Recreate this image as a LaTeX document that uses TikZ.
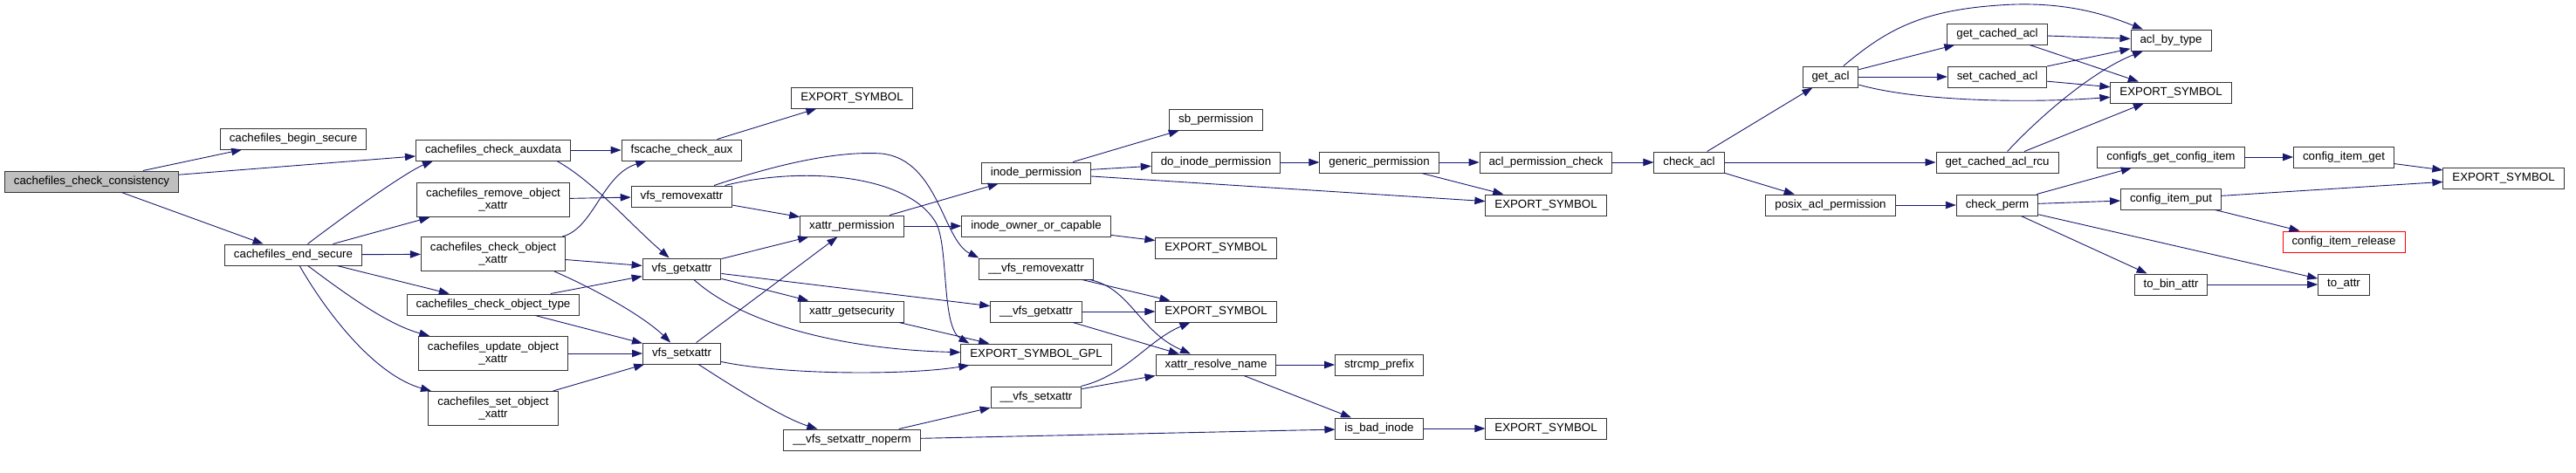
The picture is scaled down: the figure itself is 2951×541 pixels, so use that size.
\documentclass[tikz,border=0pt]{standalone}
\usepackage{fontspec}
\setmainfont{Liberation Sans}
\usetikzlibrary{arrows.meta}
\definecolor{edgeblue}{HTML}{191970}
\definecolor{rootgray}{HTML}{BFBFBF}
\tikzset{
  fn/.style={draw=black!80, fill=white, line width=1pt, inner xsep=10.5pt, inner ysep=0pt,
    minimum height=24pt, font=\fontsize{13.3}{14.5}\selectfont},
  fnii/.style={fn, align=center, minimum height=39pt},
  call/.style={draw=edgeblue, line width=0.9pt, -{Triangle[length=12pt,width=8.5pt]}},
}
\begin{document}
\begin{tikzpicture}[x=1pt, y=-1pt]
    \useasboundingbox (0,0) rectangle (2951,541);

    % Callers on the left
    \node[fn, fill=rootgray] (consist) at (105,208) {cachefiles\_check\_consistency};
    \node[fn] (beginsec) at (336,159) {cachefiles\_begin\_secure};
    \node[fn] (endsec) at (336,292) {cachefiles\_end\_secure};
    \node[fn] (auxdata) at (565,172) {cachefiles\_check\_auxdata};
    \node[fnii] (removex) at (565,229) {cachefiles\_remove\_object\\\_xattr};
    \node[fnii] (chkobjx) at (565,291) {cachefiles\_check\_object\\\_xattr};
    \node[fn] (chktype) at (565,349) {cachefiles\_check\_object\_type};
    \node[fnii] (updobjx) at (565,405) {cachefiles\_update\_object\\\_xattr};
    \node[fnii] (setobjx) at (565,468) {cachefiles\_set\_object\\\_xattr};

    % vfs xattr layer
    \node[fn] (fscaux) at (781,172) {fscache\_check\_aux};
    \node[fn] (vremx) at (781,225) {vfs\_removexattr};
    \node[fn] (vgetx) at (781,308) {vfs\_getxattr};
    \node[fn] (vsetx) at (781,405) {vfs\_setxattr};
    \node[fn] (expA) at (976,112) {EXPORT\_SYMBOL};
    \node[fn] (xperm) at (976,259) {xattr\_permission};
    \node[fn] (xgetsec) at (976,357) {xattr\_getsecurity};
    \node[fn] (vsetnop) at (976,504) {\_\_vfs\_setxattr\_noperm};
    \node[fn] (iperm) at (1187,198) {inode\_permission};
    \node[fn] (iowner) at (1187,259) {inode\_owner\_or\_capable};
    \node[fn] (uvremx) at (1187,308) {\_\_vfs\_removexattr};
    \node[fn] (uvgetx) at (1187,357) {\_\_vfs\_getxattr};
    \node[fn] (expgpl) at (1187,406) {EXPORT\_SYMBOL\_GPL};
    \node[fn] (uvsetx) at (1187,455) {\_\_vfs\_setxattr};
    \node[fn] (sbperm) at (1393,137) {sb\_permission};
    \node[fn] (doiperm) at (1393,186) {do\_inode\_permission};
    \node[fn] (expB) at (1393,284) {EXPORT\_SYMBOL};
    \node[fn] (expC) at (1393,357) {EXPORT\_SYMBOL};
    \node[fn] (xresolve) at (1393,418) {xattr\_resolve\_name};
    \node[fn] (genperm) at (1580,186) {generic\_permission};
    \node[fn] (strpre) at (1580,418) {strcmp\_prefix};
    \node[fn] (isbad) at (1580,491) {is\_bad\_inode};
    \node[fn] (aclpc) at (1771,186) {acl\_permission\_check};
    \node[fn] (expD) at (1771,235) {EXPORT\_SYMBOL};
    \node[fn] (expE) at (1771,491) {EXPORT\_SYMBOL};

    % acl and configfs side
    \node[fn] (chkacl) at (1935,186) {check\_acl};
    \node[fn] (getacl) at (2097,88) {get\_acl};
    \node[fn] (posixp) at (2097,235) {posix\_acl\_permission};
    \node[fn] (getcached) at (2288,39) {get\_cached\_acl};
    \node[fn] (setcached) at (2288,88) {set\_cached\_acl};
    \node[fn] (rcuacl) at (2288,186) {get\_cached\_acl\_rcu};
    \node[fn] (chkperm) at (2288,235) {check\_perm};
    \node[fn] (aclbytype) at (2487,46) {acl\_by\_type};
    \node[fn] (expF) at (2487,106) {EXPORT\_SYMBOL};
    \node[fn] (cfgget) at (2487,180) {configfs\_get\_config\_item};
    \node[fn] (itemput) at (2487,228) {config\_item\_put};
    \node[fn] (tobin) at (2487,326) {to\_bin\_attr};
    \node[fn] (itemget) at (2685,180) {config\_item\_get};
    \node[fn, draw=red] (itemrel) at (2685,277) {config\_item\_release};
    \node[fn] (toattr) at (2685,326) {to\_attr};
    \node[fn] (expG) at (2868,204) {EXPORT\_SYMBOL};

    % Straight calls
    \foreach \a/\b in {consist/beginsec, consist/auxdata, consist/endsec,
        endsec/removex, endsec/chkobjx, endsec/chktype,
        auxdata/fscaux, removex/vremx, chkobjx/vgetx, chktype/vgetx, chktype/vsetx,
        updobjx/vsetx, setobjx/vsetx, fscaux/expA,
        vremx/xperm, vgetx/xperm, vgetx/uvgetx, vgetx/xgetsec, vsetx/xperm,
        xgetsec/expgpl, xperm/iperm, xperm/iowner,
        iperm/sbperm, iperm/doiperm, iperm/expD, doiperm/genperm,
        genperm/aclpc, genperm/expD, aclpc/chkacl, iowner/expB,
        uvremx/expC, uvgetx/expC, uvgetx/xresolve, uvsetx/xresolve,
        vsetnop/uvsetx, vsetnop/isbad, xresolve/strpre, xresolve/isbad, isbad/expE,
        chkacl/getacl, chkacl/rcuacl, chkacl/posixp,
        getacl/getcached, getacl/setcached, getcached/aclbytype, getcached/expF,
        setcached/aclbytype, setcached/expF, rcuacl/expF, posixp/chkperm,
        chkperm/cfgget, chkperm/itemput, chkperm/toattr, chkperm/tobin,
        cfgget/itemget, itemget/expG, itemput/expG, itemput/itemrel, tobin/toattr}
        \draw[call] (\a) -- (\b);

    % Curved calls
    \draw[call] (endsec) .. controls (415,232) and (470,195) .. ([xshift=20pt]auxdata.south west);
    \draw[call] (endsec) .. controls (400,340) and (445,372) .. (updobjx);
    \draw[call] (endsec) .. controls (375,360) and (430,430) .. (setobjx);
    \draw[call] ([xshift=-16pt]auxdata.south east) .. controls (680,208) and (720,255) .. (vgetx);
    \draw[call] (chkobjx) .. controls (680,262) and (690,200) .. (fscaux);
    \draw[call] ([xshift=70pt]chkobjx.south) .. controls (690,335) and (740,365) .. (vsetx);
    \draw[call] (vremx) .. controls (870,195) and (950,172) .. (1010,176)
        .. controls (1075,183) and (1080,275) .. (uvremx.north west);
    \draw[call] (vremx) .. controls (920,190) and (1040,200) .. (1072,255)
        .. controls (1087,281) and (1078,375) .. ([xshift=10pt]expgpl.north west);
    \draw[call] ([xshift=14pt]vgetx.south) .. controls (850,370) and (960,400) .. (expgpl);
    \draw[call] (vsetx) .. controls (900,430) and (1040,430) .. (expgpl);
    \draw[call] (vsetx) .. controls (850,450) and (900,480) .. (vsetnop);
    \draw[call] (uvremx) .. controls (1295,330) and (1305,380) .. (xresolve);
    \draw[call] (uvsetx) .. controls (1290,430) and (1315,390) .. (expC);
    \draw[call] (getacl) .. controls (2160,35) and (2200,12) .. (2290,6)
        .. controls (2370,0) and (2420,20) .. (aclbytype);
    \draw[call] (getacl) .. controls (2200,117) and (2330,118) .. (expF);
    \draw[call] (rcuacl) .. controls (2340,130) and (2400,80) .. (aclbytype);
\end{tikzpicture}
\end{document}
